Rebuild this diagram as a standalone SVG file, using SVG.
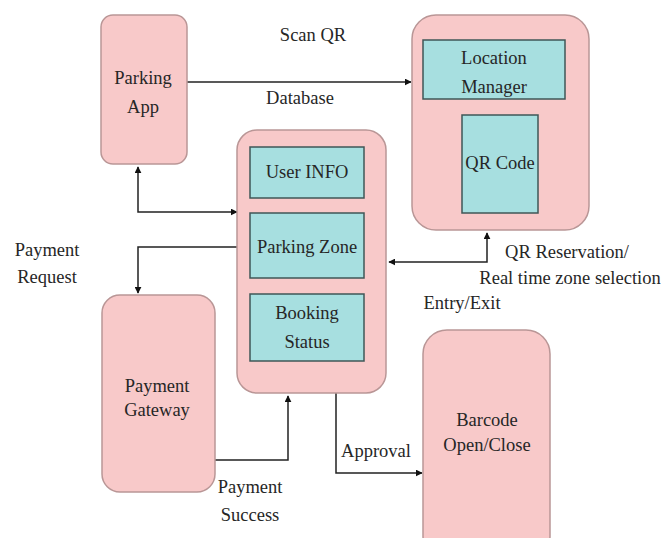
<svg xmlns="http://www.w3.org/2000/svg" width="670" height="538" viewBox="0 0 670 538">
<defs>
<style>
.box{fill:#f8c9c9;stroke:#b99696;stroke-width:1.5}
.inner{fill:#a7dfe0;stroke:#3f5757;stroke-width:1.5}
.t{font-family:"Liberation Serif","Times New Roman","DejaVu Serif",serif;font-size:18.5px;fill:#262626;text-anchor:middle}
.c{fill:none;stroke:#222;stroke-width:1.5}
</style>
<marker id="ah" viewBox="0 0 10 10" refX="9" refY="5" markerWidth="7" markerHeight="7" orient="auto-start-reverse" markerUnits="userSpaceOnUse">
<path d="M0,0 L10,5 L0,10 z" fill="#111"/>
</marker>
</defs>
<rect width="670" height="538" fill="#ffffff"/>
<g id="connectors">
<path class="c" d="M187,82 L411,82" marker-end="url(#ah)"/>
<path class="c" d="M138,167 L138,212 L237,212" marker-start="url(#ah)" marker-end="url(#ah)"/>
<path class="c" d="M237,247 L138,247 L138,293" marker-end="url(#ah)"/>
<path class="c" d="M214,460 L288,460 L288,396" marker-end="url(#ah)"/>
<path class="c" d="M336,393 L336,473 L422,473" marker-end="url(#ah)"/>
<path class="c" d="M487,233 L487,262 L389,262" marker-start="url(#ah)" marker-end="url(#ah)"/>
</g>
<g id="labels">
<text class="t" x="313" y="41">Scan QR</text>
<text class="t" x="300" y="104">Database</text>
<text class="t" x="47" y="256">Payment</text>
<text class="t" x="47" y="283">Request</text>
<text class="t" x="567" y="258">QR Reservation/</text>
<text class="t" x="570" y="284">Real time zone selection</text>
<text class="t" x="462" y="309">Entry/Exit</text>
<text class="t" x="376" y="457">Approval</text>
<text class="t" x="250" y="493">Payment</text>
<text class="t" x="250" y="521">Success</text>
</g>
<g id="parking-app">
<rect class="box" x="101" y="15" width="86" height="149" rx="12"/>
<text class="t" x="143" y="84">Parking</text>
<text class="t" x="143" y="113">App</text>
</g>
<g id="location-box">
<rect class="box" x="412" y="15" width="177" height="215" rx="24"/>
</g>
<g id="location-manager">
<rect class="inner" x="423" y="40" width="142" height="59"/>
<text class="t" x="494" y="64">Location</text>
<text class="t" x="494" y="93">Manager</text>
</g>
<g id="qr-code">
<rect class="inner" x="462" y="115" width="76" height="98"/>
<text class="t" x="500" y="169">QR Code</text>
</g>
<g id="central-box">
<rect class="box" x="237" y="130" width="149" height="263" rx="20"/>
</g>
<g id="user-info">
<rect class="inner" x="250" y="147" width="114" height="51"/>
<text class="t" x="307" y="178">User INFO</text>
</g>
<g id="parking-zone">
<rect class="inner" x="250" y="213" width="114" height="65"/>
<text class="t" x="307" y="253">Parking Zone</text>
</g>
<g id="booking-status">
<rect class="inner" x="250" y="294" width="114" height="67"/>
<text class="t" x="307" y="319">Booking</text>
<text class="t" x="307" y="348">Status</text>
</g>
<g id="payment-gateway">
<rect class="box" x="102" y="295" width="113" height="197" rx="18"/>
<text class="t" x="157" y="392">Payment</text>
<text class="t" x="157" y="416">Gateway</text>
</g>
<g id="barcode">
<rect class="box" x="423" y="330" width="127" height="230" rx="24"/>
<text class="t" x="487" y="426">Barcode</text>
<text class="t" x="487" y="451">Open/Close</text>
</g>
</svg>
